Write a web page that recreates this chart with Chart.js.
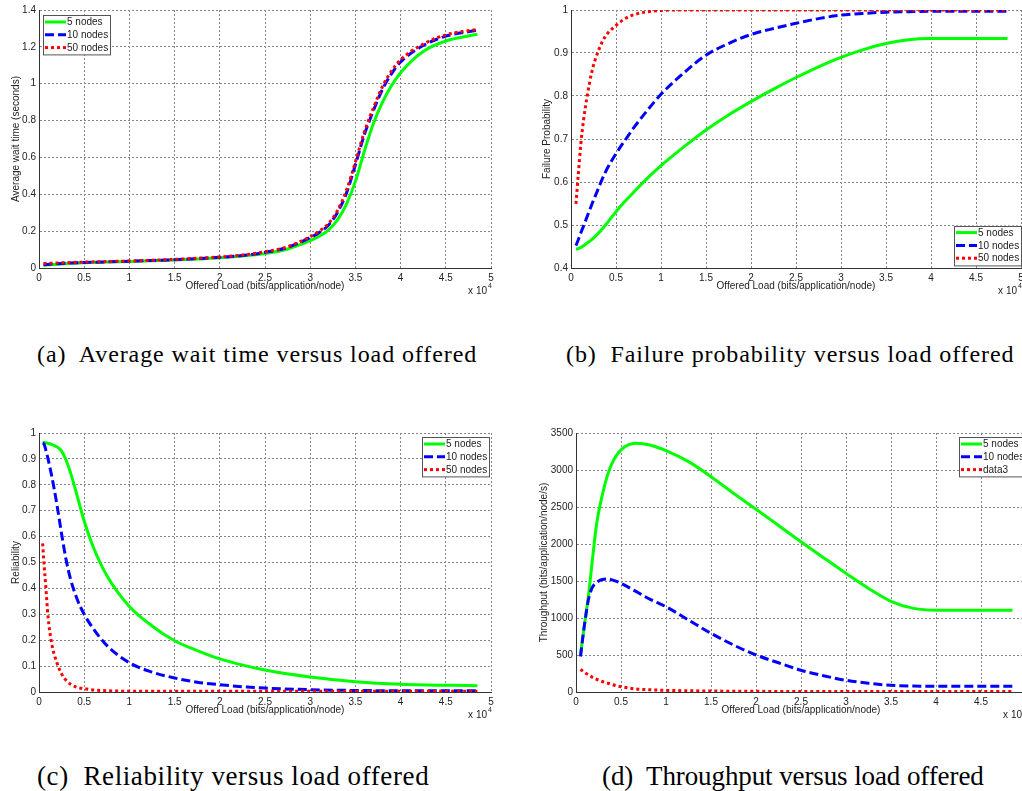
<!DOCTYPE html>
<html>
<head>
<meta charset="utf-8">
<title>Load offered figures</title>
<script src="https://cdn.jsdelivr.net/npm/chart.js@4.4.1/dist/chart.umd.min.js"></script>
<style>
    html, body { margin: 0; padding: 0; overflow: hidden; background: #fff; }
    body { position: relative; width: 1022px; height: 791px; }
    canvas { position: absolute; }
    .cap {
        position: absolute;
        font-family: "Liberation Serif", "DejaVu Serif", serif;
        font-size: 24px;
        letter-spacing: 0.9px;
        line-height: 26px;
        color: #000;
        white-space: pre;
    }
    .cap.low { font-size: 27px; letter-spacing: 0.6px; line-height: 30px; }
    .cap.low.tight { letter-spacing: -0.1px; }
</style>
</head>
<body>
<canvas id="chartA" width="510" height="300" style="left:0;top:0"></canvas>
<canvas id="chartB" width="530" height="300" style="left:512px;top:0"></canvas>
<canvas id="chartC" width="510" height="300" style="left:0;top:424px"></canvas>
<canvas id="chartD" width="530" height="300" style="left:512px;top:424px"></canvas>

<div class="cap" style="left:37px;top:341px">(a)  Average wait time versus load offered</div>
<div class="cap" style="left:566px;top:341px">(b)  Failure probability versus load offered</div>
<div class="cap low" style="left:37px;top:761px">(c)  Reliability versus load offered</div>
<div class="cap low tight" style="left:602px;top:761px">(d)  Throughput versus load offered</div>

<script>
// --- veriler (x: offered load, bits/application/node) ---
const seriesLabels = ['5 nodes', '10 nodes', '50 nodes'];
const seriesLabelsD = ['5 nodes', '10 nodes', 'data3'];
const xTicks = [0, 5000, 10000, 15000, 20000, 25000, 30000, 35000, 40000, 45000, 50000];

// (a) average wait time (s)
const loadA = [500, 2500, 5000, 7500, 10000, 12500, 15000, 17500, 20000, 22500, 25000, 27500, 30000, 31000, 32000, 33000, 34000, 35000, 36000, 37000, 38000, 39000, 40000, 42500, 45000, 48500];
const waitN5 = [0.015, 0.022, 0.028, 0.032, 0.035, 0.039, 0.043, 0.049, 0.055, 0.065, 0.078, 0.103, 0.148, 0.172, 0.205, 0.26, 0.345, 0.47, 0.635, 0.785, 0.9, 0.99, 1.06, 1.175, 1.232, 1.268];
const waitN10 = [0.018, 0.025, 0.030, 0.033, 0.037, 0.041, 0.045, 0.051, 0.058, 0.068, 0.085, 0.112, 0.165, 0.193, 0.232, 0.3, 0.405, 0.56, 0.725, 0.855, 0.97, 1.055, 1.118, 1.207, 1.258, 1.29];
const waitN50 = [0.025, 0.028, 0.032, 0.035, 0.038, 0.042, 0.047, 0.053, 0.060, 0.070, 0.088, 0.115, 0.17, 0.2, 0.24, 0.31, 0.42, 0.575, 0.74, 0.87, 0.985, 1.07, 1.13, 1.215, 1.265, 1.295];

// (b) failure probability
const loadB = [550, 800, 1100, 1400, 1800, 2300, 3000, 3800, 5000, 6000, 7000, 8500, 10000, 12500, 15000, 17500, 20000, 22500, 25000, 27500, 30000, 32500, 35000, 37500, 40000, 48500];
const failN5 = [0.444, 0.445, 0.448, 0.452, 0.458, 0.466, 0.48, 0.499, 0.531, 0.555, 0.577, 0.609, 0.638, 0.681, 0.721, 0.756, 0.787, 0.816, 0.843, 0.868, 0.89, 0.908, 0.922, 0.931, 0.934, 0.934];
const failN10 = [0.452, 0.465, 0.482, 0.498, 0.52, 0.547, 0.583, 0.622, 0.666, 0.697, 0.727, 0.767, 0.804, 0.853, 0.895, 0.922, 0.943, 0.957, 0.969, 0.98, 0.988, 0.992, 0.995, 0.996, 0.997, 0.997];
const failN50 = [0.549, 0.615, 0.69, 0.745, 0.80, 0.855, 0.903, 0.938, 0.964, 0.98, 0.989, 0.996, 0.999, 1, 1, 1, 1, 1, 1, 1, 1, 1, 1, 1, 1, 1];

// (c) reliability
const loadC = [400, 550, 750, 1000, 1400, 2000, 2500, 3000, 3500, 4200, 5000, 6000, 7500, 10000, 12500, 15000, 17500, 20000, 23000, 25000, 30000, 35000, 40000, 48500];
const relN5 = [0.963, 0.963, 0.962, 0.96, 0.956, 0.946, 0.93, 0.895, 0.845, 0.76, 0.66, 0.56, 0.45, 0.33, 0.255, 0.198, 0.16, 0.128, 0.1, 0.085, 0.058, 0.04, 0.03, 0.024];
const relN10 = [0.96, 0.958, 0.935, 0.9, 0.835, 0.72, 0.61, 0.51, 0.435, 0.36, 0.30, 0.245, 0.18, 0.113, 0.077, 0.054, 0.038, 0.028, 0.019, 0.015, 0.009, 0.006, 0.005, 0.005];
const relN50 = [0.574, 0.497, 0.407, 0.291, 0.188, 0.111, 0.07, 0.045, 0.03, 0.018, 0.013, 0.008, 0.005, 0.003, 0.003, 0.003, 0.003, 0.003, 0.003, 0.003, 0.003, 0.003, 0.003, 0.003];

// (d) throughput (bits/application/node/s)
const loadD = [500, 800, 1000, 1400, 1800, 2300, 2900, 3500, 4000, 5000, 6700, 8200, 10000, 12500, 15000, 17500, 20000, 22500, 25000, 27500, 30000, 32500, 35000, 37500, 40000, 48500];
const thrN5 = [500, 780, 960, 1320, 1760, 2280, 2650, 2930, 3090, 3271, 3361, 3338, 3262, 3113, 2910, 2685, 2470, 2250, 2030, 1815, 1603, 1400, 1225, 1130, 1106, 1106];
const thrN10 = [480, 780, 960, 1260, 1410, 1480, 1520, 1527, 1515, 1469, 1356, 1255, 1153, 973, 793, 635, 500, 395, 294, 220, 158, 118, 90, 80, 77, 77];
const thrN50 = [306, 280, 261, 232, 200, 170, 142, 120, 100, 72, 40, 30, 22, 17, 13, 11, 9, 8, 8, 8, 8, 8, 8, 8, 8, 8];

// --- ortak stil ---
const FONT = '"Liberation Sans", Arial, sans-serif';
const lineStyles = [
    { borderColor: '#00ff00', borderWidth: 3, borderDash: [], order: 3 },
    { borderColor: '#0000ff', borderWidth: 3, borderDash: [9, 4], order: 2 },
    { borderColor: '#ff0000', borderWidth: 3, borderDash: [3, 3], order: 1 }
];

function toPoints(xs, ys) {
    return xs.map((x, i) => ({ x: x, y: ys[i] }));
}

function fmt(v) {
    return String(Number(v.toFixed(3)));
}

// lejant: çizim alanının içine kutu olarak
const insetLegend = {
    id: 'insetLegend',
    afterDraw(chart, args, opts) {
        if (!opts.corner) return;
        const ctx = chart.ctx, area = chart.chartArea;
        const sets = chart.data.datasets;
        const rowH = 12.8, w = opts.width, h = rowH * sets.length + 1;
        const x = opts.corner[1] === 'r' ? area.right - opts.dx - w : area.left + opts.dx;
        const y = opts.corner[0] === 'b' ? area.bottom - opts.dy - h : area.top + opts.dy;
        ctx.save();
        ctx.fillStyle = '#fff';
        ctx.fillRect(x, y, w, h);
        ctx.strokeStyle = '#555';
        ctx.lineWidth = 1;
        ctx.setLineDash([]);
        ctx.strokeRect(Math.round(x) + 0.5, Math.round(y) + 0.5, w, h);
        ctx.font = '10px ' + FONT;
        ctx.textBaseline = 'middle';
        sets.forEach((ds, i) => {
            const cy = y + 7 + i * rowH;
            ctx.strokeStyle = ds.borderColor;
            ctx.lineWidth = ds.borderWidth;
            ctx.setLineDash(ds.borderDash);
            ctx.beginPath();
            ctx.moveTo(x + 2, cy);
            ctx.lineTo(x + 23, cy);
            ctx.stroke();
            ctx.fillStyle = '#222';
            ctx.fillText(ds.label, x + 24, cy + 0.5);
        });
        ctx.restore();
    }
};

// "x 10^4" çarpanı
const xExponent = {
    id: 'xExponent',
    afterDraw(chart) {
        const ctx = chart.ctx, area = chart.chartArea;
        ctx.save();
        ctx.fillStyle = '#222';
        ctx.textBaseline = 'alphabetic';
        ctx.textAlign = 'right';
        ctx.font = '10px ' + FONT;
        ctx.fillText('x 10', area.right - 4, area.bottom + 26);
        ctx.textAlign = 'left';
        ctx.font = '7px ' + FONT;
        ctx.fillText('4', area.right - 3, area.bottom + 20);
        ctx.restore();
    }
};

function makeChart(id, o) {
    const datasets = o.series.map((ys, i) => Object.assign({
        label: o.labels[i],
        data: toPoints(o.load, ys),
        fill: false,
        pointRadius: 0,
        cubicInterpolationMode: 'monotone',
        borderCapStyle: 'butt'
    }, lineStyles[i]));

    const grid = { color: '#858585', drawTicks: false };
    const border = { display: true, color: '#333', width: 1, dash: [2, 2] };

    return new Chart(document.getElementById(id), {
        type: 'line',
        data: { datasets: datasets },
        options: {
            responsive: false,
            animation: false,
            devicePixelRatio: 1,
            layout: { padding: { top: o.padTop, right: o.padRight, left: 0, bottom: 0 } },
            plugins: {
                legend: { display: false },
                tooltip: { enabled: false },
                insetLegend: o.legend
            },
            scales: {
                x: {
                    type: 'linear',
                    min: 0,
                    max: 50000,
                    afterBuildTicks: s => { s.ticks = xTicks.map(v => ({ value: v })); },
                    afterFit: s => { s.height = 32; },
                    grid: grid,
                    border: border,
                    ticks: {
                        autoSkip: false,
                        maxRotation: 0,
                        padding: 4,
                        color: '#222',
                        font: { family: FONT, size: 10 },
                        callback: v => fmt(v / 10000)
                    },
                    title: {
                        display: true,
                        text: 'Offered Load (bits/application/node)',
                        color: '#222',
                        font: { family: FONT, size: 10 },
                        padding: { top: 0, bottom: 8 }
                    }
                },
                y: {
                    min: o.yMin,
                    max: o.yMax,
                    afterBuildTicks: s => {
                        const t = [];
                        for (let v = o.yMin; v <= o.yMax + 1e-9; v += o.yStep) t.push({ value: Number(v.toFixed(4)) });
                        s.ticks = t;
                    },
                    afterFit: s => { s.width = o.yWidth; },
                    grid: grid,
                    border: border,
                    ticks: {
                        padding: 3,
                        color: '#222',
                        font: { family: FONT, size: 10 },
                        callback: v => fmt(v)
                    },
                    title: {
                        display: true,
                        text: o.yTitle,
                        color: '#222',
                        font: { family: FONT, size: 10 },
                        padding: { top: o.titlePad, bottom: 0 }
                    }
                }
            }
        },
        plugins: [insetLegend, xExponent]
    });
}

makeChart('chartA', {
    load: loadA, series: [waitN5, waitN10, waitN50], labels: seriesLabels,
    yMin: 0, yMax: 1.4, yStep: 0.2, yWidth: 39, titlePad: 10,
    padTop: 10, padRight: 19,
    yTitle: 'Average wait time (seconds)',
    legend: { corner: 'tl', dx: 4, dy: 5, width: 67 }
});

makeChart('chartB', {
    load: loadB, series: [failN5, failN10, failN50], labels: seriesLabels,
    yMin: 0.4, yMax: 1, yStep: 0.1, yWidth: 59, titlePad: 29,
    padTop: 10, padRight: 21,
    yTitle: 'Failure Probability',
    legend: { corner: 'br', dx: 0, dy: 3, width: 67 }
});

makeChart('chartC', {
    load: loadC, series: [relN5, relN10, relN50], labels: seriesLabels,
    yMin: 0, yMax: 1, yStep: 0.1, yWidth: 39, titlePad: 10,
    padTop: 9, padRight: 19,
    yTitle: 'Reliability',
    legend: { corner: 'tr', dx: 2, dy: 4, width: 67 }
});

makeChart('chartD', {
    load: loadD, series: [thrN5, thrN10, thrN50], labels: seriesLabelsD,
    yMin: 0, yMax: 3500, yStep: 500, yWidth: 64, titlePad: 26,
    padTop: 9, padRight: 16,
    yTitle: 'Throughput (bits/application/node/s)',
    legend: { corner: 'tr', dx: 0, dy: 4, width: 67 }
});
</script>
</body>
</html>
